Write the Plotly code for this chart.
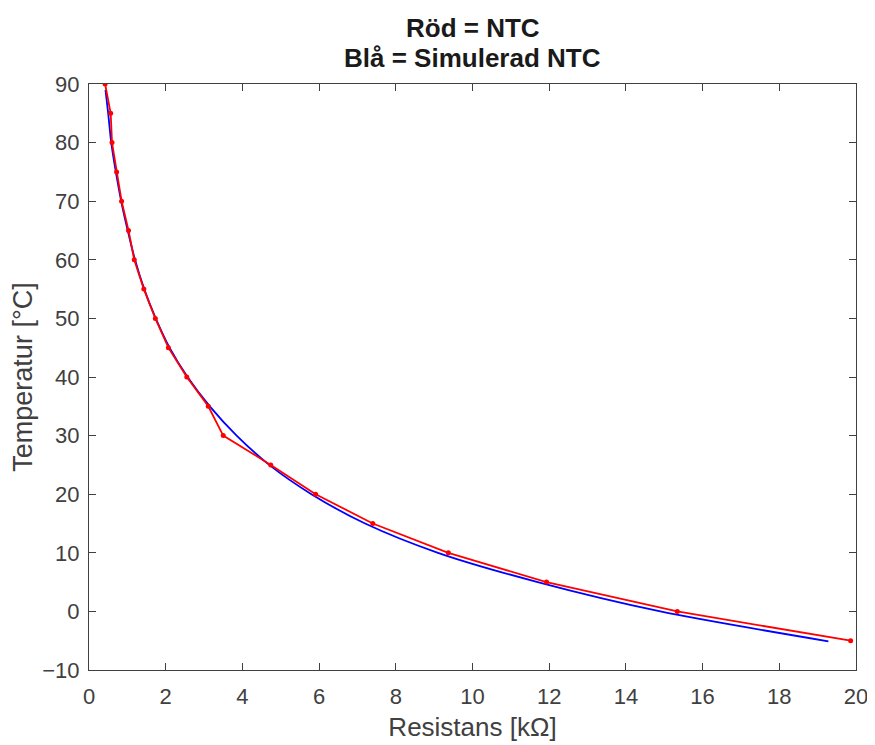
import plotly.graph_objects as go

# Measured NTC (red): resistance [kOhm] and temperature [degC]
ntc_r = [0.42, 0.565, 0.60, 0.72, 0.85, 1.03, 1.18, 1.43, 1.73, 2.07, 2.55, 3.11, 3.50,
         4.74, 5.91, 7.40, 9.37, 11.93, 15.34, 19.86]
ntc_t = [90, 85, 80, 75, 70, 65, 60, 55, 50, 45, 40, 35, 30, 25, 20, 15, 10, 5, 0, -5]

# Simulated NTC (blue)
sim_r = [0.43, 0.50, 0.58, 0.70, 0.84, 1.01, 1.20, 1.44, 1.74, 2.10, 2.57, 3.15, 3.85,
         4.70, 5.80, 7.20, 9.10, 11.70, 14.90, 19.28]
sim_t = [89, 85, 80, 75, 70, 65, 60, 55, 50, 45, 40, 35, 30, 25, 20, 15, 10, 5, 0, -5.1]

x_ticks = [0, 2, 4, 6, 8, 10, 12, 14, 16, 18, 20]
y_ticks = [-10, 0, 10, 20, 30, 40, 50, 60, 70, 80, 90]

title_lines = ["Röd = NTC", "Blå = Simulerad NTC"]

FONT = "Liberation Sans"

fig = go.Figure()
fig.add_trace(go.Scatter(x=sim_r, y=sim_t, mode="lines",
                         line=dict(color="#0000ff", width=1.8, shape="spline", smoothing=0.8),
                         showlegend=False))
fig.add_trace(go.Scatter(x=ntc_r, y=ntc_t, mode="lines+markers",
                         line=dict(color="#ff0000", width=1.8),
                         marker=dict(color="#ff0000", size=5), showlegend=False))

axis_common = dict(showline=True, linecolor="#404040", linewidth=1.2, mirror="ticks",
                   ticks="inside", ticklen=7, tickcolor="#404040", showgrid=False,
                   zeroline=False, automargin=False,
                   tickfont=dict(family=FONT, size=22, color="#404040"))

fig.update_xaxes(range=[0, 20], tickvals=x_ticks, ticklabelstandoff=6,
                 title=dict(text="Resistans [kΩ]", standoff=10,
                            font=dict(family=FONT, size=26, color="#404040")),
                 **axis_common)
fig.update_yaxes(range=[-10, 90], tickvals=y_ticks, ticklabelstandoff=4,
                 title=dict(text="Temperatur [°C]", standoff=6,
                            font=dict(family=FONT, size=27, color="#404040")),
                 **axis_common)

fig.add_annotation(text="<b>" + title_lines[0] + "</b>", xref="paper", yref="paper",
                   x=0.5, y=(662 - 20) / 586, showarrow=False, yanchor="middle",
                   font=dict(family=FONT, size=26, color="#1a1a1a"))
fig.add_annotation(text="<b>" + title_lines[1] + "</b>", xref="paper", yref="paper",
                   x=0.5, y=(662 - 50) / 586, showarrow=False, yanchor="middle",
                   font=dict(family=FONT, size=26, color="#1a1a1a"))

fig.update_layout(width=875, height=745, margin=dict(l=81, r=27, t=76, b=83),
                  paper_bgcolor="white", plot_bgcolor="white")

fig.write_html("out.html")
